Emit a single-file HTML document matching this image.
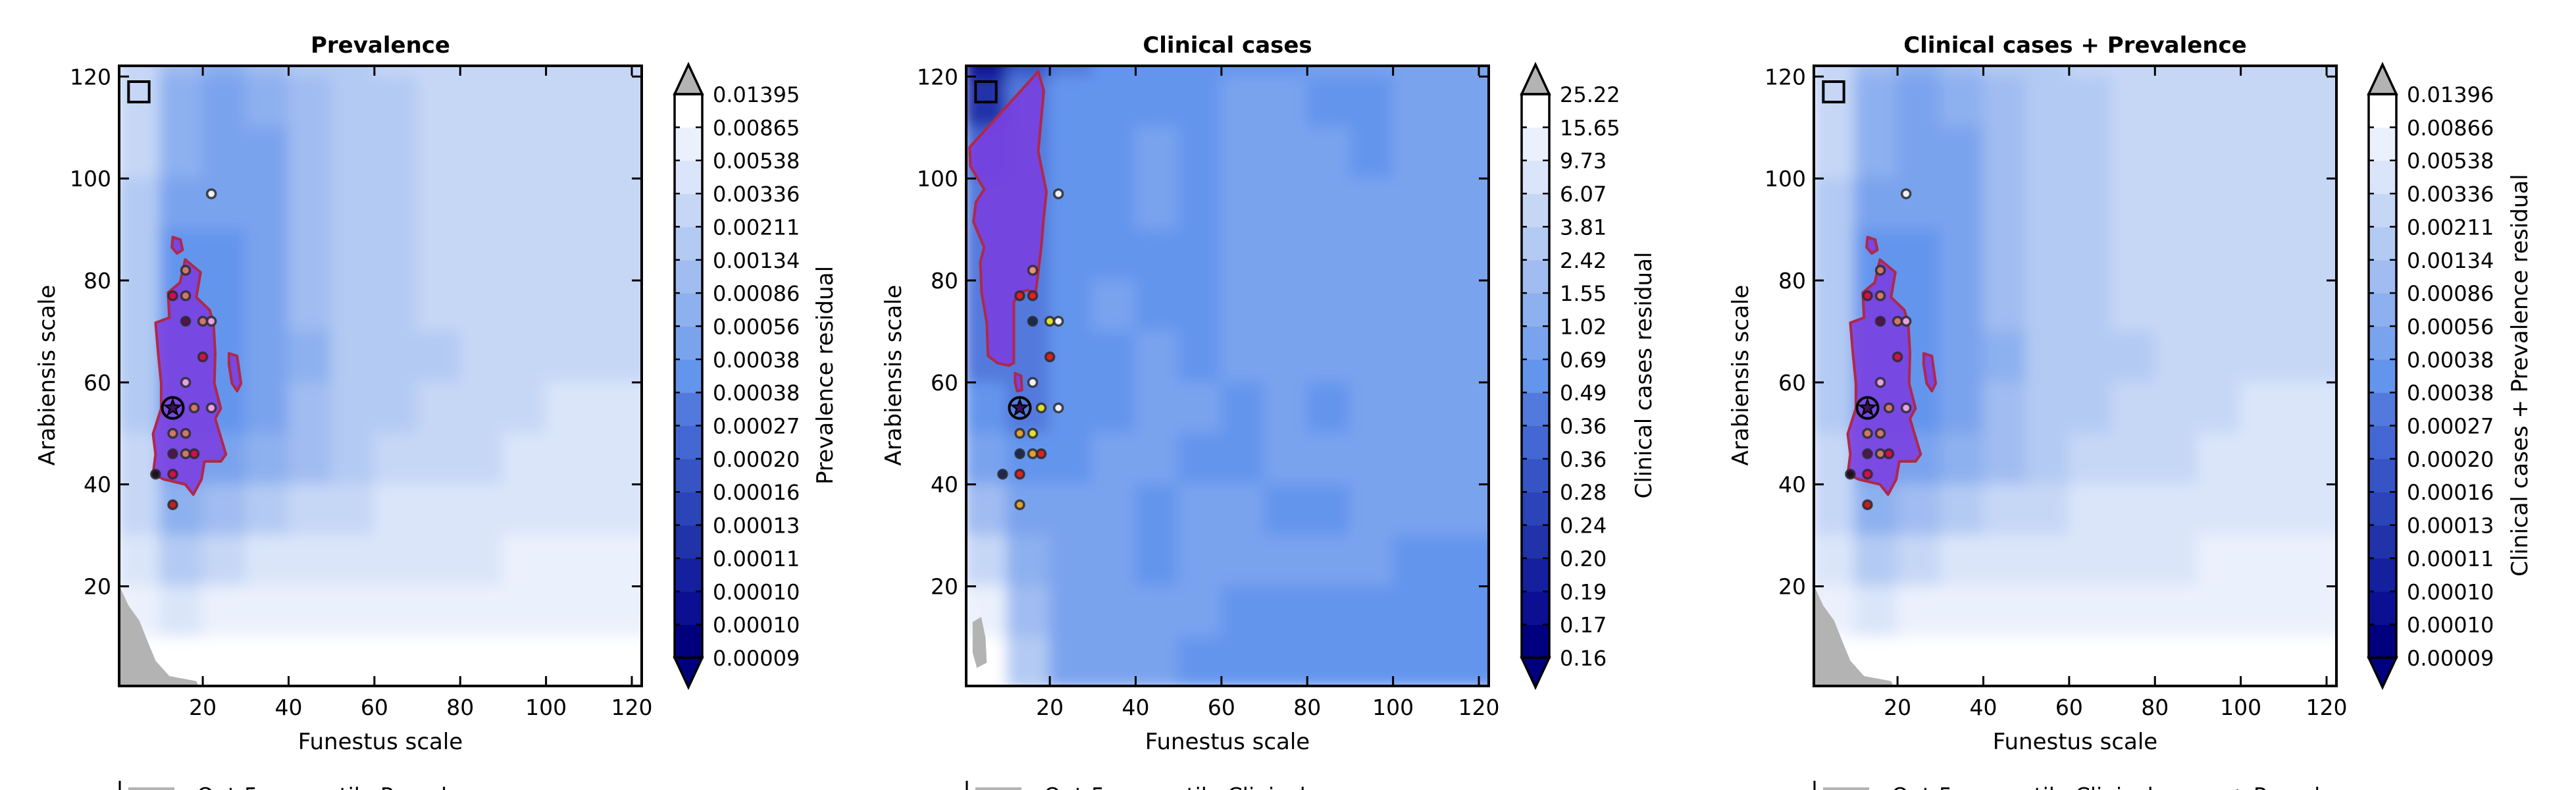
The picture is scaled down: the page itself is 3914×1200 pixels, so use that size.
<!DOCTYPE html>
<html><head><meta charset="utf-8">
<style>
html,body{margin:0;padding:0;background:#fff;}
svg{display:block;font-family:"DejaVu Sans","Liberation Sans",sans-serif;}
</style></head>
<body>
<svg id="fig" width="3914" height="1200" viewBox="0 0 3914 1200" xmlns="http://www.w3.org/2000/svg">
<defs>
<filter id="soft" x="0" y="0" width="1" height="1"><feGaussianBlur stdDeviation="11" edgeMode="duplicate"/></filter>
</defs>
</svg>
<script>
// ---- data ----
const bandColors = ["#00007f","#0b0f92","#15209f","#2033a9","#2b45b8","#3654c4","#4468d3","#5279dc","#6495ed","#7aa3ee","#8db0ef","#a0bcf1","#b3caf3","#c6d7f6","#dae5f9","#ebf1fc","#ffffff"];
const xTicks = [20,40,60,80,100,120];
const yTicks = [20,40,60,80,100,120];
const prevLabels = ["0.01395","0.00865","0.00538","0.00336","0.00211","0.00134","0.00086","0.00056","0.00038","0.00038","0.00027","0.00020","0.00016","0.00013","0.00011","0.00010","0.00010","0.00009"];
const clinLabels = ["25.22","15.65","9.73","6.07","3.81","2.42","1.55","1.02","0.69","0.49","0.36","0.36","0.28","0.24","0.20","0.19","0.17","0.16"];
const combLabels = ["0.01396","0.00866","0.00538","0.00336","0.00211","0.00134","0.00086","0.00056","0.00038","0.00038","0.00027","0.00020","0.00016","0.00013","0.00011","0.00010","0.00010","0.00009"];
// grid level indices: rows y=120..0 (10-unit bins), cols x=0..120
const prevGrid = [
[13,11,10,11,12,12,13,13,13,13,13,13,13],
[13,10,9,10,11,12,12,13,13,13,13,13,13],
[13,10,9,9,11,12,12,13,13,13,13,13,13],
[12,9,9,9,11,12,12,13,13,13,13,13,13],
[12,8,8,9,11,12,12,13,13,13,13,13,13],
[12,8,8,9,11,12,12,13,13,13,13,13,13],
[12,8,8,9,10,12,12,12,13,13,13,13,13],
[12,8,8,9,11,12,12,13,13,13,14,14,14],
[13,9,9,10,11,12,13,13,13,14,14,14,14],
[13,10,11,12,13,13,14,14,14,14,14,14,14],
[14,12,13,14,14,14,14,14,14,15,15,15,15],
[15,14,15,15,15,15,15,15,15,15,15,15,15],
[16,16,16,16,16,16,16,16,16,16,16,16,16]];
const clinGrid = [
[1,5,7,8,8,8,8,8,9,9,9,9,9],
[3,7,8,8,8,8,9,9,8,8,9,9,9],
[6,7,8,8,9,8,9,9,9,8,9,9,9],
[7,7,8,8,9,8,9,9,9,9,9,9,9],
[7,7,8,8,8,8,9,9,9,9,9,9,9],
[7,7,8,9,8,8,9,9,9,9,9,9,9],
[7,7,8,8,9,8,9,9,9,9,9,9,9],
[8,7,8,8,9,9,8,9,8,9,9,9,9],
[9,8,8,9,9,8,8,9,9,9,9,9,9],
[11,9,9,9,8,9,9,8,8,9,9,9,9],
[13,10,9,9,8,9,9,9,9,9,8,8,8],
[15,11,9,9,9,9,8,8,8,8,8,8,8],
[16,12,9,9,9,8,8,8,8,8,8,8,8]];
const combGrid = prevGrid;
const prevPurple = [[15.9,84.1],[19.5,81.6],[18.5,76.7],[21.6,74.2],[22.5,71.7],[22.9,65.7],[22.7,59.8],[24.2,54.9],[22.9,52.9],[25.4,45.9],[24.2,44.5],[20.4,44.5],[19.7,41.0],[17.8,38.0],[15.9,40.0],[10.9,41.0],[8.4,42.0],[9.0,45.9],[8.4,49.9],[10.3,54.9],[10.3,59.8],[9.6,65.7],[9.0,71.7],[12.2,72.7],[11.9,77.6],[14.7,79.6]];
const prevBlobA = [[26.1,65.7],[28.0,65.2],[28.9,59.8],[28.0,58.3],[26.8,59.8],[26.1,63.5]];
const prevBlobB = [[13.0,88.5],[14.8,88.0],[15.3,86.0],[14.0,85.3],[12.8,86.5]];
const clinPurple = [[1.3,106.1],[17.3,121],[18.6,117.2],[17.3,105.3],[19.2,97.4],[18.6,92.5],[18.0,86.5],[16.7,77.6],[14.8,78.1],[12.7,77.6],[11.6,75.6],[11.6,63.8],[10.4,63.3],[7.8,63.8],[5.6,65.2],[5.3,71.7],[4.1,77.6],[3.8,83.6],[4.7,86.5],[2.2,91.5],[2.8,95.4],[4.7,97.9],[1.5,102.4]];
const clinBlob = [[11.9,61.8],[13.3,61.3],[13.5,58.5],[12.4,58.3],[11.9,60]];
const prevGray = [[0.5,20.2],[2.7,16.2],[5.2,13.3],[7.1,9.3],[9.0,5.4],[12.2,2.4],[18.5,1.4],[19.1,0.3],[0.5,0.3]];
const clinGray = [[2,13],[4,14],[5,10],[5.3,5],[3,4],[2,7]];
const ptX = [16,13,16,16,20,22,20,16,18,22,13,16,13,16,18,9,13,13,22];
const ptY = [82,77,77,72,72,72,65,60,55,55,50,50,46,46,46,42,42,36,97];
const prevColors = ["#d07868","#d0104a","#d07868","#5a1050","#d07868","#e8a0e0","#d0104a","#e8a0e0","#d07868","#e8a0e0","#d07868","#d07868","#5a1050","#d07868","#d0104a","#201020","#d0104a","#c02020","#f0f0f8"];
const clinColors = ["#e89080","#e02020","#e02020","#1a2a50","#e0e030","#f0f0f8","#e02020","#f0f0f8","#e0e030","#f0f0f8","#e0a030","#e0e030","#1a2a50","#e0a030","#e02020","#1a2a50","#e02020","#e0a030","#f0f0f8"];
const starPt = [13,55];
const boxPt = [2.7,115,7.5,119];

const NS="http://www.w3.org/2000/svg";
const svg=document.getElementById('fig');
function mk(tag,attrs,parent){const e=document.createElementNS(NS,tag);for(const k in attrs)e.setAttribute(k,attrs[k]);(parent||svg).appendChild(e);return e;}

const panels=[
 {key:'prevalence',title:'Prevalence',L:181,grid:prevGrid,labels:prevLabels,cbL:1025,cbLab:'Prevalence residual',cbLabX:1265,purple:[prevPurple,prevBlobA,prevBlobB],gray:prevGray,colors:prevColors,legend:'Out-5 percentile Prevalence',ylabX:83},
 {key:'clinical',title:'Clinical cases',L:1468,grid:clinGrid,labels:clinLabels,cbL:2312,cbLab:'Clinical cases residual',cbLabX:2509,purple:[clinPurple,clinBlob],gray:clinGray,colors:clinColors,legend:'Out-5 percentile Clinical cases',ylabX:1369},
 {key:'combined',title:'Clinical cases + Prevalence',L:2756,grid:combGrid,labels:combLabels,cbL:3599,cbLab:'Clinical cases + Prevalence residual',cbLabX:3840,purple:[prevPurple,prevBlobA,prevBlobB],gray:prevGray,colors:prevColors,legend:'Out-5 percentile Clinical cases + Prevalence',ylabX:2656}
];
const T=100,B=1042,W=794,X0=0.5,X1=122.3,Y0=0.45,Y1=122.1;

panels.forEach((p,pi)=>{
 const g=mk('g',{});
 
 
 const sx=v=>p.L+(v-X0)/(X1-X0)*W;
 const sy=v=>B-(v-Y0)/(Y1-Y0)*(B-T);
 const cid='clip'+pi;
 const cp=mk('clipPath',{id:cid},g); mk('rect',{x:p.L,y:T,width:W,height:B-T},cp);
 const plot=mk('g',{'clip-path':'url(#'+cid+')'},g);
 
 
 const field=mk('g',{filter:'url(#soft)'},plot);
 p.grid.forEach((row,r)=>{
  row.forEach((lv,c)=>{
   const yTop=130-r*10, yBot=yTop-10;
   const cell=mk('rect',{x:sx(c*10)-1,y:sy(yTop)-1,width:sx(c*10+10)-sx(c*10)+2,height:sy(yBot)-sy(yTop)+2,fill:bandColors[lv]},field);
   
   
  });
 });
 const gp=mk('polygon',{points:p.gray.map(q=>sx(q[0])+','+sy(q[1])).join(' '),fill:'#b3b3b3'},plot);
 
 
 p.purple.forEach(poly=>{
  const pp=mk('polygon',{points:poly.map(q=>sx(q[0])+','+sy(q[1])).join(' '),fill:'#7a3ee0','fill-opacity':'0.88',stroke:'#b02848','stroke-width':4,'stroke-linejoin':'round'},plot);
  
  
 });
 const bx=mk('rect',{x:sx(boxPt[0]),y:sy(boxPt[3]),width:sx(boxPt[2])-sx(boxPt[0]),height:sy(boxPt[1])-sy(boxPt[3]),fill:'none',stroke:'#000','stroke-width':4},plot);
 
 
 ptX.forEach((x,i)=>{
  const c=mk('circle',{cx:sx(x),cy:sy(ptY[i]),r:6.5,fill:p.colors[i],stroke:'#2a2a30','stroke-width':3.5,'stroke-opacity':0.85},plot);
  
  
 });
 const scx=sx(starPt[0]),scy=sy(starPt[1]);
 const sc=mk('circle',{cx:scx,cy:scy,r:16,fill:'none',stroke:'#000','stroke-width':4},plot);
 
 
 let pts=[];for(let k=0;k<10;k++){const a=-Math.PI/2+k*Math.PI/5;const rr=k%2?5:12;pts.push((scx+rr*Math.cos(a)).toFixed(1)+','+(scy+rr*Math.sin(a)).toFixed(1));}
 const st=mk('polygon',{points:pts.join(' '),fill:'#3a1060',stroke:'#000','stroke-width':2.5},plot);
 
 
 const fr=mk('rect',{x:p.L,y:T,width:W,height:B-T,fill:'none',stroke:'#000','stroke-width':4},g);
 
 
 xTicks.forEach(t=>{
  const x=sx(t);
  mk('line',{x1:x,y1:B,x2:x,y2:B-15,stroke:'#000','stroke-width':3},g);
  mk('line',{x1:x,y1:T,x2:x,y2:T+15,stroke:'#000','stroke-width':3},g);
  const tl=mk('text',{x:x,y:B+44,'text-anchor':'middle','font-size':33},g); tl.textContent=t;
  
  
 });
 yTicks.forEach(t=>{
  const y=sy(t);
  mk('line',{x1:p.L,y1:y,x2:p.L+15,y2:y,stroke:'#000','stroke-width':3},g);
  mk('line',{x1:p.L+W,y1:y,x2:p.L+W-15,y2:y,stroke:'#000','stroke-width':3},g);
  const tl=mk('text',{x:p.L-12,y:y+12,'text-anchor':'end','font-size':33},g); tl.textContent=t;
  
  
 });
 const ti=mk('text',{x:p.L+W/2,y:80,'text-anchor':'middle','font-size':34,'font-weight':'bold'},g); ti.textContent=p.title;
 
 
 const xl=mk('text',{x:p.L+W/2,y:1138,'text-anchor':'middle','font-size':34},g); xl.textContent='Funestus scale';
 
 
 const yl=mk('text',{x:p.ylabX,y:570,'text-anchor':'middle','font-size':34,transform:'rotate(-90 '+p.ylabX+' 570)'},g); yl.textContent='Arabiensis scale';
 
 
 const cb=mk('g',{},g);
 
 
 const cT=143,cB=999,cw=42,n=bandColors.length,bh=(cB-cT)/n;
 bandColors.forEach((c,i)=>{
  const r=mk('rect',{x:p.cbL,y:cB-(i+1)*bh,width:cw,height:bh+0.6,fill:c},cb);
  
  
 });
 mk('polygon',{points:`${p.cbL},${cT} ${p.cbL+cw/2},98 ${p.cbL+cw},${cT}`,fill:'#b3b3b3',stroke:'#000','stroke-width':3.5},cb);
 mk('polygon',{points:`${p.cbL},${cB} ${p.cbL+cw/2},1044 ${p.cbL+cw},${cB}`,fill:'#00007f',stroke:'#000','stroke-width':3.5},cb);
 mk('rect',{x:p.cbL,y:cT,width:cw,height:cB-cT,fill:'none',stroke:'#000','stroke-width':3.5},cb);
 p.labels.forEach((lab,i)=>{
  const y=cT+i*bh;
  mk('line',{x1:p.cbL+cw-10,y1:y,x2:p.cbL+cw,y2:y,stroke:'#000','stroke-width':2.5},cb);
  mk('line',{x1:p.cbL,y1:y,x2:p.cbL+8,y2:y,stroke:'#000','stroke-width':2.5},cb);
  const t=mk('text',{x:p.cbL+cw+16,y:y+12,'font-size':32},cb); t.textContent=lab;
  
  
 });
 const cl=mk('text',{x:p.cbLabX,y:570,'text-anchor':'middle','font-size':34,transform:'rotate(-90 '+p.cbLabX+' 570)'},cb); cl.textContent=p.cbLab;
 
 
 const lg=mk('g',{},g);
 
 
 mk('line',{x1:p.L+1,y1:1186,x2:p.L+1,y2:1200,stroke:'#000','stroke-width':3},lg);
 mk('rect',{x:p.L+14,y:1196,width:70,height:10,fill:'#b3b3b3'},lg);
 const lt=mk('text',{x:p.L+118,y:1220,'font-size':33},lg); lt.textContent=p.legend;
 
 
});
</script>
</body></html>
